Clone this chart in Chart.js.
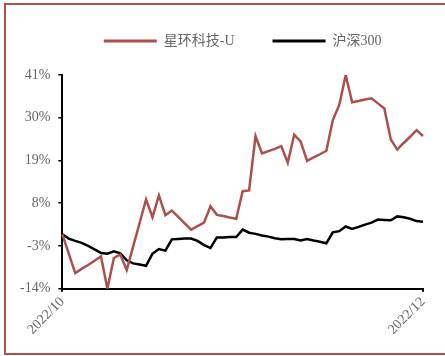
<!DOCTYPE html>
<html>
<head>
<meta charset="utf-8">
<script src="https://cdn.jsdelivr.net/npm/chart.js@4"></script>
<style>
  html, body { margin: 0; padding: 0; background: #fff; }
  #wrap { position: relative; width: 445px; height: 356px; overflow: hidden; }
  #frame { position: absolute; left: 4px; top: 3px; width: 460px; height: 348px; border: 2px solid #B0504C; }
  #box { position: absolute; left: 0; top: 0; width: 445px; height: 356px; }
</style>
</head>
<body>
<div id="wrap">
  <div id="frame"></div>
  <div id="box"><canvas id="LineChart"></canvas></div>
</div>
<script>
// trading days, only first and last are labelled
const dayCount = 57;
const tickLabels = ["2022/10", "2022/12"];

const starringValues = [0, -5.0, -10.0, -8.9, -7.9, -6.8, -5.7, -14.0, -6.1, -5.2,
  -9.2, -3.1, 2.9, 9.0, 4.4, 10.0, 4.9, 6.1, 4.5, 2.8,
  1.2, 2.1, 3.0, 7.2, 5.0, 4.7, 4.3, 4.0, 11.1, 11.3,
  25.3, 20.8, 21.4, 22.0, 22.7, 18.4, 25.6, 23.9, 18.9, 19.8,
  20.6, 21.5, 29.4, 33.3, 41.0, 34.0, 34.3, 34.7, 35.0, 33.7,
  32.4, 24.4, 21.8, 23.5, 25.1, 26.8, 25.3];

const hs300Values = [0, -1.1, -1.7, -2.2, -3.0, -3.9, -4.8, -5.0, -4.4, -4.9,
  -6.7, -7.5, -7.8, -8.1, -5.0, -3.8, -4.2, -1.3, -1.2, -1.1,
  -1.1, -1.7, -2.8, -3.5, -0.8, -0.8, -0.7, -0.7, 1.2, 0.4,
  0.1, -0.3, -0.6, -1.0, -1.3, -1.2, -1.2, -1.6, -1.2, -1.6,
  -1.9, -2.3, 0.5, 0.8, 2.0, 1.4, 1.9, 2.5, 3.0, 3.8,
  3.7, 3.6, 4.6, 4.4, 4.0, 3.4, 3.2];

const labels = Array.from({length: dayCount}, (_, i) => i);

const RED = "#AD4F4B";
const GREY = "#666666";
const FONT = "'Liberation Serif', 'Times New Roman', 'Noto Sans CJK SC', serif";

// push the plot down below the legend
const legendGap = {
  id: 'legendGap',
  beforeInit(chart) {
    const fit = chart.legend.fit;
    chart.legend.fit = function () {
      fit.call(this);
      this.height += 17;
    };
  }
};

const CHART = document.getElementById("LineChart");

let LineChart = new Chart(CHART, {
  type: 'line',
  data: {
    labels: labels,
    datasets: [
      {
        label: "星环科技-U",
        data: starringValues,
        borderColor: RED,
        backgroundColor: RED,
        borderWidth: 2.5,
        pointRadius: 0,
        tension: 0,
        fill: false
      },
      {
        label: "沪深300",
        data: hs300Values,
        borderColor: "#000000",
        backgroundColor: "#000000",
        borderWidth: 2.5,
        pointRadius: 0,
        tension: 0,
        fill: false
      }
    ]
  },
  options: {
    responsive: true,
    maintainAspectRatio: false,
    animation: false,
    layout: { padding: { top: -4, left: 12, right: 22, bottom: 16 } },
    plugins: {
      tooltip: { enabled: false },
      legend: {
        position: 'top',
        fullSize: false,
        labels: {
          boxWidth: 53,
          boxHeight: 3,
          padding: 38,
          color: GREY,
          font: { family: FONT, size: 14 },
          generateLabels(chart) {
            return Chart.defaults.plugins.legend.labels.generateLabels(chart).map(l => {
              l.lineWidth = 0;
              return l;
            });
          }
        }
      }
    },
    scales: {
      x: {
        type: 'category',
        offset: false,
        border: { display: true, color: "#000", width: 2 },
        grid: {
          drawOnChartArea: false,
          drawTicks: true,
          tickLength: 3,
          lineWidth: 2,
          color: (ctx) => (ctx.index === 0 || ctx.index === dayCount - 1) ? "#000" : "rgba(0,0,0,0)"
        },
        ticks: {
          autoSkip: false,
          maxRotation: 45,
          minRotation: 45,
          padding: 2,
          color: GREY,
          font: { family: FONT, size: 14 },
          callback: (val, i) => i === 0 ? tickLabels[0] : (i === dayCount - 1 ? tickLabels[1] : "")
        }
      },
      y: {
        min: -14,
        max: 41,
        border: { display: true, color: "#000", width: 2 },
        grid: { drawOnChartArea: false, drawTicks: true, tickLength: 4, color: "#000", lineWidth: 1.5 },
        ticks: {
          stepSize: 11,
          padding: 8,
          color: GREY,
          font: { family: FONT, size: 14 },
          callback: (v) => v + "%"
        }
      }
    }
  },
  plugins: [legendGap]
});
</script>
</body>
</html>
